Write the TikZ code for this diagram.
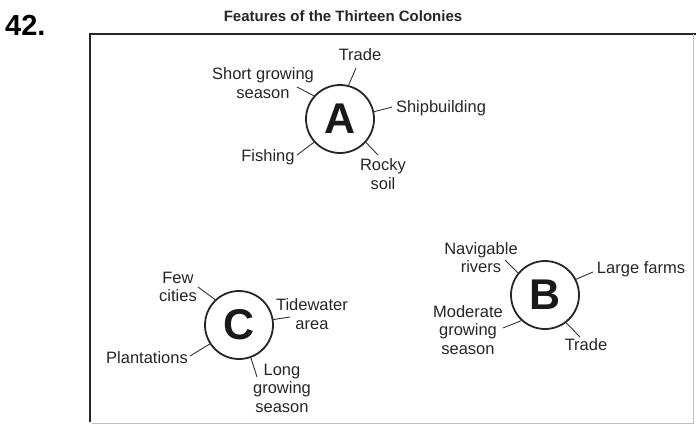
\documentclass[tikz,border=0pt]{standalone}
\usepackage{fontspec}
\setmainfont{Liberation Sans}
\begin{document}
\begin{tikzpicture}[x=1pt,y=-1pt,
  lbl/.style={font=\fontsize{16.5}{18.5}\selectfont, text=black!85, align=center, inner sep=0pt},
  hub/.style={circle, draw=black!85, line width=1.8pt, minimum size=68pt, inner sep=0pt, outer sep=0pt,
    font=\fontsize{43}{43}\selectfont\bfseries, text=black!90},
  conn/.style={draw=black!80, line width=0.9pt}]
\useasboundingbox (0,0) rectangle (696,424);
% number and title
\node[font=\fontsize{29}{29}\selectfont\bfseries, anchor=west, inner sep=0pt] (num) at (5,25) {42.};
\node[font=\fontsize{15}{15}\selectfont\bfseries, text=black!85, inner sep=0pt] (title) at (343,16) {Features of the Thirteen Colonies};
% frame
\draw[black!85, line width=1.3pt] (90,422) -- (90,34) -- (696,34);
\draw[black!25, line width=0.8pt] (693,34) -- (693,423) -- (92,423);
% circle A
\node[hub] (A) at (340,119) {A};
\node[lbl] (a1) at (360,55) {Trade};
\node[lbl] (a2) at (263,83) {Short growing\\season};
\node[lbl] (a3) at (441,108) {Shipbuilding};
\node[lbl] (a4) at (268,157) {Fishing};
\node[lbl] (a5) at (383,174) {Rocky\\soil};
\coordinate (ea1) at (356,68);
\coordinate (ea2) at (297,87);
\coordinate (ea3) at (392,107);
\coordinate (ea4) at (297,155);
\coordinate (ea5) at (378,155);
\draw[conn] (A.76) -- (ea1);
\draw[conn] (A.138) -- (ea2);
\draw[conn] (A.12) -- (ea3);
\draw[conn] (A.222) -- (ea4);
\draw[conn] (A.318) -- (ea5);
% circle B
\node[hub] (B) at (545,295) {B};
\node[lbl] (b1) at (481,257.5) {Navigable\\rivers};
\node[lbl] (b2) at (641,269) {Large farms};
\node[lbl] (b3) at (468,330) {Moderate\\growing\\season};
\node[lbl] (b4) at (586,345) {Trade};
\coordinate (eb1) at (505,260);
\coordinate (eb2) at (593,272);
\coordinate (eb3) at (503,328);
\coordinate (eb4) at (580,337);
\draw[conn] (B.141) -- (eb1);
\draw[conn] (B.27) -- (eb2);
\draw[conn] (B.228) -- (eb3);
\draw[conn] (B.307) -- (eb4);
% circle C
\node[hub] (C) at (239,325) {C};
\node[lbl] (c1) at (178,287) {Few\\cities};
\node[lbl] (c2) at (312,314) {Tidewater\\area};
\node[lbl] (c3) at (147,358) {Plantations};
\node[lbl] (c4) at (282,388) {Long\\growing\\season};
\coordinate (ec1) at (198,287);
\coordinate (ec2) at (290,317);
\coordinate (ec3) at (190,356);
\coordinate (ec4) at (257,377);
\draw[conn] (C.133) -- (ec1);
\draw[conn] (C.9) -- (ec2);
\draw[conn] (C.213) -- (ec3);
\draw[conn] (C.290) -- (ec4);
\end{tikzpicture}
\end{document}
